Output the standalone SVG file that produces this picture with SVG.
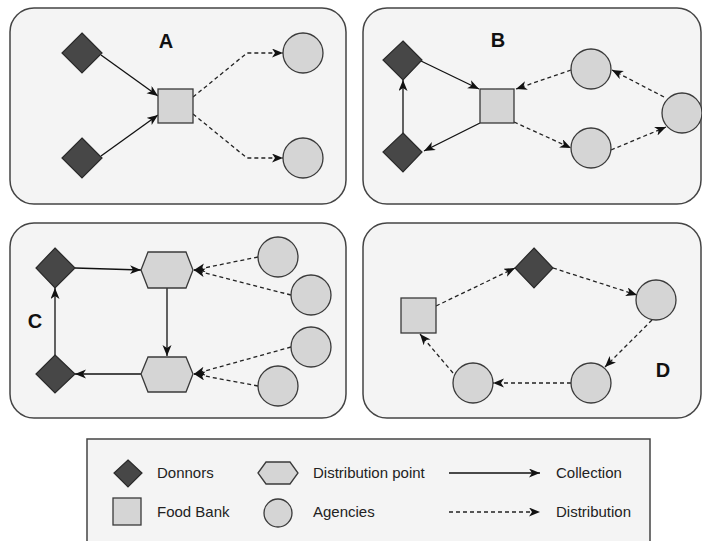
<svg xmlns="http://www.w3.org/2000/svg" width="702" height="541" viewBox="0 0 702 541">
<style>
.panel{fill:#f4f4f4;stroke:#444;stroke-width:1.5}
.don{fill:#474747;stroke:#2a2a2a;stroke-width:1.2}
.lt{fill:#d5d5d5;stroke:#3a3a3a;stroke-width:1.3}
.sol{fill:none;stroke:#111;stroke-width:1.3;marker-end:url(#ah)}
.dash{fill:none;stroke:#222;stroke-width:1.3;stroke-dasharray:4 3;marker-end:url(#ah)}
.lbl{font-family:"Liberation Sans",Arial,sans-serif;font-weight:bold;font-size:20px;fill:#111;text-anchor:middle}
.leg{font-family:"Liberation Sans",Arial,sans-serif;font-size:15px;fill:#222}
</style>
<defs>
<marker id="ah" markerUnits="userSpaceOnUse" markerWidth="12" markerHeight="10" refX="11" refY="4.5" orient="auto">
<path d="M0,0 L11,4.5 L0,9 L3,4.5 z" fill="#111"/>
</marker>
</defs>
<rect width="702" height="541" fill="#ffffff"/>
<g id="panels">
<rect id="panelA" class="panel" x="10" y="8" width="336" height="196" rx="24"/>
<rect id="panelB" class="panel" x="363" y="8" width="338" height="196" rx="24"/>
<rect id="panelC" class="panel" x="10" y="223" width="336" height="195" rx="24"/>
<rect id="panelD" class="panel" x="363" y="223" width="338" height="195" rx="24"/>
</g>
<g id="labels">
<text class="lbl" x="166" y="48">A</text>
<text class="lbl" x="498" y="47">B</text>
<text class="lbl" x="35" y="328">C</text>
<text class="lbl" x="663" y="377">D</text>
</g>
<g id="connectors">
<path class="sol" d="M101,55 L158,96"/>
<path class="sol" d="M101,156 L158,115"/>
<path class="dash" d="M193,97 L247,53 L283,53"/>
<path class="dash" d="M193,114 L247,158 L283,158"/>
<path class="sol" d="M421,61 L479,89"/>
<path class="sol" d="M480,123 L424,151"/>
<path class="sol" d="M403,133 L403,80"/>
<path class="dash" d="M571,70 L516,89"/>
<path class="dash" d="M514,122 L571,148"/>
<path class="dash" d="M611,150 L666,127"/>
<path class="dash" d="M664,97 L612,70"/>
<path class="sol" d="M75,268 L141,270"/>
<path class="sol" d="M167,288 L167,356"/>
<path class="sol" d="M141,374 L75,374"/>
<path class="sol" d="M55,355 L55,288"/>
<path class="dash" d="M258,257 L194,270"/>
<path class="dash" d="M291,295 L194,270"/>
<path class="dash" d="M291,347 L194,374"/>
<path class="dash" d="M258,386 L194,374"/>
<path class="dash" d="M436,306 L515,268"/>
<path class="dash" d="M553,268 L637,295"/>
<path class="dash" d="M652,320 L605,367"/>
<path class="dash" d="M571,383 L493,383"/>
<path class="dash" d="M453,373 L420,334"/>
</g>
<g id="nodesA">
<polygon id="A-donor1" class="don" points="82,33 102,53 82,73 62,53"/>
<polygon id="A-donor2" class="don" points="82,138 102,158 82,178 62,158"/>
<rect id="A-foodbank" class="lt" x="158" y="89" width="35" height="34"/>
<circle id="A-agency1" class="lt" cx="303" cy="53" r="20"/>
<circle id="A-agency2" class="lt" cx="303" cy="158" r="20"/>
</g>
<g id="nodesB">
<polygon id="B-donor1" class="don" points="403,41 422,60 403,80 383,60"/>
<polygon id="B-donor2" class="don" points="403,133 422,152 403,172 383,152"/>
<rect id="B-foodbank" class="lt" x="480" y="89" width="34" height="34"/>
<circle id="B-agency1" class="lt" cx="591" cy="69" r="20"/>
<circle id="B-agency2" class="lt" cx="682" cy="113" r="20"/>
<circle id="B-agency3" class="lt" cx="591" cy="148" r="20"/>
</g>
<g id="nodesC">
<polygon id="C-donor1" class="don" points="55,248 75,268 55,288 36,268"/>
<polygon id="C-donor2" class="don" points="55,355 75,374 55,393 36,374"/>
<polygon id="C-dist1" class="lt" points="141,270 148,252 186,252 193,270 186,288 148,288"/>
<polygon id="C-dist2" class="lt" points="141,374 148,357 186,357 193,374 186,392 148,392"/>
<circle id="C-agency1" class="lt" cx="278" cy="257" r="20"/>
<circle id="C-agency2" class="lt" cx="311" cy="295" r="20"/>
<circle id="C-agency3" class="lt" cx="311" cy="347" r="20"/>
<circle id="C-agency4" class="lt" cx="278" cy="386" r="20"/>
</g>
<g id="nodesD">
<rect id="D-foodbank" class="lt" x="401" y="298" width="35" height="35"/>
<polygon id="D-donor" class="don" points="534,248 553,268 534,288 515,268"/>
<circle id="D-agency1" class="lt" cx="656" cy="300" r="20"/>
<circle id="D-agency2" class="lt" cx="591" cy="383" r="20"/>
<circle id="D-agency3" class="lt" cx="473" cy="383" r="20"/>
</g>
<g id="legend">
<rect x="87" y="439" width="563" height="112" fill="#f4f4f4" stroke="#444" stroke-width="1.5"/>
<polygon class="don" points="128,460 142,473 128,487 114,473"/>
<text class="leg" x="157" y="478">Donnors</text>
<rect class="lt" x="113" y="498" width="28" height="27"/>
<text class="leg" x="157" y="517">Food Bank</text>
<polygon class="lt" points="258,473 266,462 290,462 298,473 290,484 266,484"/>
<text class="leg" x="313" y="478">Distribution point</text>
<circle class="lt" cx="278" cy="513" r="14"/>
<text class="leg" x="313" y="517">Agencies</text>
<path d="M449,473 L540,473" fill="none" stroke="#111" stroke-width="1.3" marker-end="url(#ah)"/>
<path d="M449,512 L540,512" fill="none" stroke="#222" stroke-width="1.3" stroke-dasharray="4 3" marker-end="url(#ah)"/>
<text class="leg" x="556" y="478">Collection</text>
<text class="leg" x="556" y="517">Distribution</text>
</g>
</svg>
